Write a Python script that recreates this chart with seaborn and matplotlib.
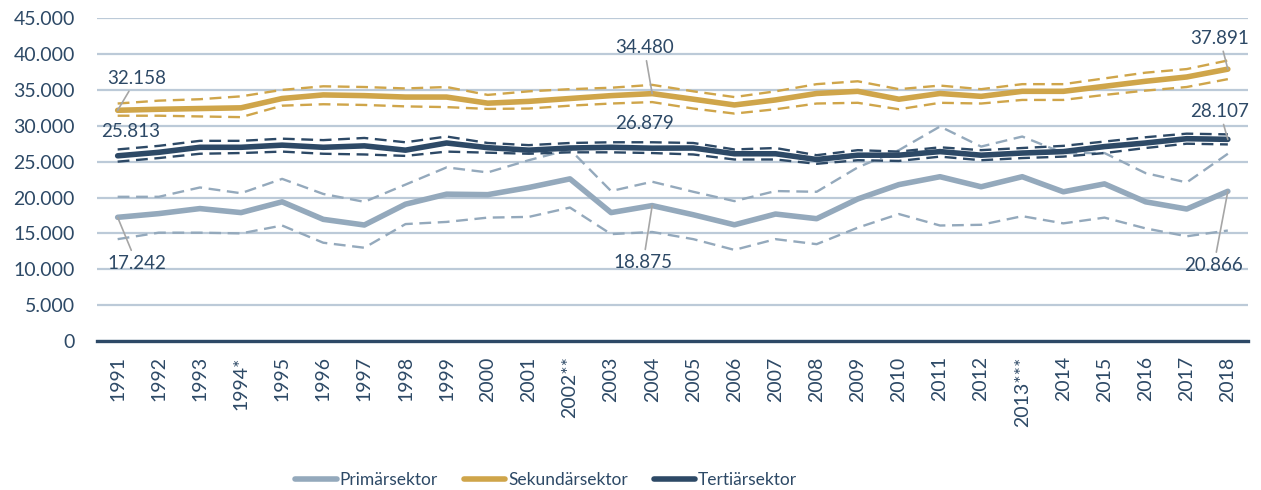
import pandas as pd
import numpy as np
import matplotlib.pyplot as plt
import matplotlib.ticker as mticker
import seaborn as sns

# Jahre (Kategorien)
jahre = ["1991", "1992", "1993", "1994*", "1995", "1996", "1997", "1998", "1999", "2000",
         "2001", "2002**", "2003", "2004", "2005", "2006", "2007", "2008", "2009", "2010",
         "2011", "2012", "2013***", "2014", "2015", "2016", "2017", "2018"]

# Primärsektor: Wert, obere und untere Grenze
prim = [17242, 17760, 18460, 17900, 19400, 16960, 16170, 19070, 20470, 20400,
        21400, 22600, 17900, 18875, 17600, 16200, 17700, 17050, 19800, 21800,
        22900, 21500, 22900, 20800, 21900, 19400, 18400, 20866]
prim_hi = [20100, 20100, 21400, 20600, 22600, 20500, 19400, 21800, 24200, 23500,
           25200, 26700, 20900, 22200, 20800, 19500, 20900, 20800, 24200, 26600,
           29900, 27100, 28500, 26200, 26200, 23400, 22100, 26100]
prim_lo = [14200, 15100, 15100, 15000, 16100, 13700, 13000, 16300, 16600, 17200,
           17300, 18600, 14900, 15200, 14200, 12700, 14200, 13500, 15800, 17700,
           16100, 16200, 17400, 16400, 17200, 15700, 14600, 15400]

# Sekundärsektor
sek = [32158, 32300, 32400, 32500, 33800, 34300, 34200, 34000, 34000, 33150,
       33400, 33800, 34200, 34480, 33700, 32900, 33600, 34500, 34800, 33700,
       34500, 34100, 34800, 34800, 35500, 36200, 36800, 37891]
sek_hi = [33100, 33500, 33700, 34100, 35000, 35500, 35400, 35200, 35400, 34300,
          34800, 35100, 35300, 35700, 34800, 34000, 34800, 35800, 36200, 35100,
          35600, 35100, 35800, 35800, 36600, 37400, 37900, 39100]
sek_lo = [31400, 31400, 31300, 31200, 32800, 33000, 32900, 32700, 32600, 32350,
          32400, 32800, 33100, 33300, 32400, 31700, 32300, 33100, 33200, 32300,
          33200, 33100, 33600, 33600, 34300, 34900, 35400, 36500]

# Tertiärsektor
tert = [25813, 26300, 27000, 27000, 27300, 27000, 27200, 26600, 27600, 26950,
        26600, 26900, 27000, 26879, 26900, 26100, 26100, 25300, 25900, 25900,
        26400, 25900, 26200, 26400, 27100, 27600, 28200, 28107]
tert_hi = [26700, 27200, 27900, 27900, 28200, 28000, 28300, 27700, 28500, 27600,
           27300, 27600, 27700, 27700, 27600, 26700, 26900, 25900, 26600, 26400,
           27000, 26600, 26900, 27200, 27800, 28400, 28900, 28800]
tert_lo = [25000, 25500, 26100, 26200, 26400, 26100, 26000, 25800, 26400, 26250,
           26100, 26300, 26300, 26200, 26000, 25300, 25300, 24700, 25200, 25100,
           25700, 25200, 25500, 25700, 26200, 26900, 27500, 27400]

sektoren = ["Primärsektor", "Sekundärsektor", "Tertiärsektor"]
farben = {"Primärsektor": "#94A9BC", "Sekundärsektor": "#CFA54A", "Tertiärsektor": "#2D4966"}
textfarbe = "#2D4966"

reihen = {
    "Primärsektor": (prim, prim_hi, prim_lo),
    "Sekundärsektor": (sek, sek_hi, sek_lo),
    "Tertiärsektor": (tert, tert_hi, tert_lo),
}

rows = []
for s in sektoren:
    for typ, werte in zip(["wert", "oben", "unten"], reihen[s]):
        for j, v in zip(jahre, werte):
            rows.append({"Jahr": j, "Wert": v, "Sektor": s, "Typ": typ})
df = pd.DataFrame(rows)

sns.set_style("white")
plt.rcParams["font.family"] = ["Lato", "DejaVu Sans"]

fig = plt.figure(figsize=(12.61, 4.90), dpi=100)
ax = fig.add_axes([0.077, 0.304, 0.913, 0.659])

# Grenzen gestrichelt
for s in sektoren:
    for typ in ["oben", "unten"]:
        sub = df[(df.Sektor == s) & (df.Typ == typ)]
        sns.lineplot(data=sub, x="Jahr", y="Wert", ax=ax, color=farben[s],
                     lw=1.7, dashes=False, linestyle=(0, (5, 2.8)), legend=False, zorder=2)

# Hauptlinien
main = df[df.Typ == "wert"]
sns.lineplot(data=main, x="Jahr", y="Wert", hue="Sektor", hue_order=sektoren,
             palette=farben, lw=4.0, ax=ax, zorder=3, solid_capstyle="round")

ax.set_ylim(0, 45000)
ax.set_xlim(-0.5, len(jahre) - 0.5)
ax.yaxis.set_major_locator(mticker.MultipleLocator(5000))
ax.yaxis.set_major_formatter(mticker.FuncFormatter(lambda v, p: f"{v:,.0f}".replace(",", ".")))
ax.grid(axis="y", color="#BCCAD8", lw=1.6)
ax.set_axisbelow(True)
for sp in ["top", "right", "left"]:
    ax.spines[sp].set_visible(False)
ax.spines["bottom"].set_color(textfarbe)
ax.spines["bottom"].set_linewidth(2.4)
ax.set_xlabel("")
ax.set_ylabel("")
ax.tick_params(axis="both", length=0, labelsize=14, colors=textfarbe)
ax.tick_params(axis="y", pad=16)
ax.tick_params(axis="x", rotation=90, pad=11)

# Beschriftungen
def fmt(v):
    return f"{v:,.0f}".replace(",", ".")

labels = [
    (0, sek[0], (19, 32), True),
    (0, tert[0], (13, 24), False),
    (0, prim[0], (19, -46), True),
    (13, sek[13], (-8, 46), True),
    (13, tert[13], (-8, 25), False),
    (13, prim[13], (-9, -57), True),
    (27, sek[27], (-8, 31), True),
    (27, tert[27], (-8, 28), True),
    (27, prim[27], (-14, -74), True),
]
for i, v, off, pfeil in labels:
    kw = dict(arrowprops=dict(arrowstyle="-", color="#A6A6A6", lw=1.2, shrinkA=1, shrinkB=0)) if pfeil else {}
    ax.annotate(fmt(v), xy=(i, v), xytext=off, textcoords="offset pixels",
                ha="center", va="center", fontsize=13.5, color=textfarbe, zorder=5, **kw)

leg = ax.legend(loc="center", bbox_to_anchor=(0.39, -0.43), ncol=3, frameon=False,
                fontsize=12.5, handlelength=2.4, handletextpad=0.15, columnspacing=1.5,
                labelcolor=textfarbe)
for h in leg.get_lines():
    h.set_linewidth(4.0)
    h.set_solid_capstyle("round")

fig.savefig("out.png", dpi=100)
